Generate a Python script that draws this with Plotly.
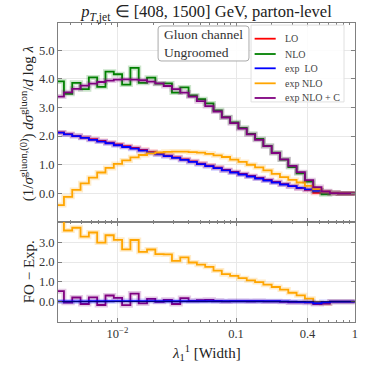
import numpy as np
import plotly.graph_objects as go
from plotly.subplots import make_subplots

# bins in log10(lambda), 36 equal-width bins ending at lambda = 1
log_edges = np.linspace(-2.52, 0.0, 37)
lam_edges = 10 ** log_edges

# top panel values, one per bin
lo = [2.13, 2.07, 2.01, 1.95, 1.89, 1.83, 1.77, 1.71, 1.65, 1.59, 1.52, 1.45,
      1.38, 1.32, 1.26, 1.19, 1.12, 1.04, 0.97, 0.90, 0.82, 0.75, 0.68, 0.61,
      0.54, 0.47, 0.40, 0.32, 0.25, 0.18, 0.12, 0.02, 0.03, 0.01, 0.0, 0.0]
nlo = [3.91, 3.48, 3.86, 3.64, 4.05, 3.72, 4.25, 4.16, 3.80, 4.38, 3.86, 4.04,
       3.83, 3.84, 3.52, 3.70, 3.42, 3.29, 3.14, 2.90, 2.66, 2.48, 2.29, 2.08,
       1.90, 1.66, 1.42, 1.18, 0.92, 0.70, 0.41, 0.10, -0.03, 0.01, 0.0, 0.0]
exp_lo = [2.12, 2.06, 2.00, 1.94, 1.87, 1.81, 1.75, 1.68, 1.62, 1.56, 1.49, 1.42,
          1.36, 1.30, 1.24, 1.17, 1.10, 1.02, 0.95, 0.88, 0.80, 0.73, 0.66, 0.59,
          0.52, 0.45, 0.38, 0.31, 0.25, 0.19, 0.14, 0.09, 0.05, 0.01, 0.0, 0.0]
exp_nlo = [-0.41, -0.12, 0.12, 0.35, 0.55, 0.73, 0.89, 1.03, 1.15, 1.26, 1.34, 1.40,
           1.43, 1.45, 1.46, 1.46, 1.44, 1.42, 1.38, 1.33, 1.27, 1.18, 1.10, 1.00,
           0.91, 0.80, 0.68, 0.57, 0.47, 0.38, 0.26, 0.15, 0.06, 0.01, 0.0, 0.0]
exp_nlo_c = [3.38, 3.53, 3.65, 3.76, 3.83, 3.89, 3.94, 3.97, 3.98, 3.97, 3.95, 3.90,
             3.84, 3.75, 3.64, 3.52, 3.38, 3.22, 3.05, 2.86, 2.65, 2.45, 2.26, 2.06,
             1.87, 1.65, 1.41, 1.19, 0.96, 0.74, 0.46, 0.22, 0.07, 0.01, 0.0, 0.0]

# lower panel: fixed order minus expansion
diff_nlo = np.array(nlo) - np.array(exp_nlo)
diff_nlo_c = np.array(nlo) - np.array(exp_nlo_c)
diff_lo = np.array(lo) - np.array(exp_lo)

x_tickvals = [0.01, 0.1, 0.4, 1]
x_ticktext = ['10<sup>\u22122</sup>', '0.1', '0.4', '1']

SERIF = 'Liberation Serif'
TXT = '#333333'
DARK = '#222222'
AXIS = '#808080'
GRID = '#e8e8e8'


def step(vals):
    vals = list(vals)
    return vals + [vals[-1]]


fig = make_subplots(rows=2, cols=1, shared_xaxes=True, vertical_spacing=0)

top_series = [
    ('LO', lo, '#ff0000'),
    ('NLO', nlo, '#008000'),
    ('exp  LO', exp_lo, '#0000ff'),
    ('exp NLO', exp_nlo, '#ffa500'),
    ('exp NLO + C', exp_nlo_c, '#800080'),
]

for name, vals, col in top_series:
    # faint band behind each histogram
    fig.add_trace(go.Scatter(x=lam_edges, y=step(vals), mode='lines', line_shape='hv',
                             line=dict(color=col, width=5), opacity=0.2,
                             showlegend=False, hoverinfo='skip'), row=1, col=1)
    fig.add_trace(go.Scatter(x=lam_edges, y=step(vals), mode='lines', line_shape='hv',
                             name=name, line=dict(color=col, width=1.8),
                             showlegend=False), row=1, col=1)

bottom_series = [
    (diff_nlo, '#ffa500'),
    (diff_nlo_c, '#800080'),
    (diff_lo, '#0000ff'),
]
for vals, col in bottom_series:
    fig.add_trace(go.Scatter(x=lam_edges, y=step(vals), mode='lines', line_shape='hv',
                             line=dict(color=col, width=5), opacity=0.2,
                             showlegend=False, hoverinfo='skip'), row=2, col=1)
    fig.add_trace(go.Scatter(x=lam_edges, y=step(vals), mode='lines', line_shape='hv',
                             line=dict(color=col, width=1.8), showlegend=False), row=2, col=1)

fig.add_hline(y=0, line_color='rgba(0,0,0,0.6)', line_width=1, row=2, col=1)

fig.update_layout(
    width=366, height=366,
    margin=dict(l=58, r=8, t=23, b=44),
    paper_bgcolor='white', plot_bgcolor='white',
    font=dict(family=SERIF, color=TXT, size=12),
    title=dict(text='<i>p</i><sub><i>T</i>,jet</sub> \u2208 [408, 1500] GeV, parton-level',
               x=0.5, xref='paper', xanchor='center', y=0.968, yref='container',
               yanchor='middle', font=dict(size=16.5, color=DARK)),
    showlegend=False,
)

axis_common = dict(showline=True, linecolor=AXIS, linewidth=1, mirror='allticks',
                   ticks='inside', tickcolor=AXIS, ticklen=4, showgrid=True,
                   gridcolor=GRID, zeroline=False, tickfont=dict(size=12.5, color=TXT))

fig.update_xaxes(type='log', range=[-2.5, 0.002], tickvals=x_tickvals, ticktext=x_ticktext,
                 minor=dict(ticks='inside', ticklen=2, tickcolor=AXIS, dtick='D1', showgrid=False),
                 **axis_common)
fig.update_xaxes(showticklabels=False, row=1, col=1)

fig.update_yaxes(range=[-1.0, 5.95], tickvals=[0, 1, 2, 3, 4, 5], tickformat='.1f',
                 domain=[0.3344, 1.0], row=1, col=1, **axis_common)
fig.update_yaxes(range=[-1.03, 4.03], tickvals=[0, 1, 2, 3], tickformat='.1f',
                 domain=[0.0, 0.3344], row=2, col=1, **axis_common)

# axis titles
fig.add_annotation(xref='paper', yref='paper', x=0.5, y=-0.104, xanchor='center', yanchor='middle',
                   text='<i>\u03bb</i><sub>1</sub><sup>1</sup> [Width]', showarrow=False,
                   font=dict(size=15, color=DARK))
fig.add_annotation(xref='paper', yref='paper', x=-0.103, y=0.666, xanchor='center', yanchor='middle',
                   textangle=-90, showarrow=False,
                   text='(1/<i>\u03c3</i><sup>gluon,(0)</sup>) <i>d\u03c3</i><sup>gluon</sup>/<i>d</i> log <i>\u03bb</i>',
                   font=dict(size=15, color=DARK))
fig.add_annotation(xref='paper', yref='paper', x=-0.097, y=0.167, xanchor='center', yanchor='middle',
                   textangle=-90, showarrow=False, text='FO \u2212 Exp.',
                   font=dict(size=15, color=DARK))

# text box with rounded corners
fig.add_shape(type='path', xref='paper', yref='paper',
              path='M 0.347,0.99 L 0.633,0.99 Q 0.643,0.99 0.643,0.98 L 0.643,0.883 '
                   'Q 0.643,0.873 0.633,0.873 L 0.347,0.873 Q 0.337,0.873 0.337,0.883 '
                   'L 0.337,0.98 Q 0.337,0.99 0.347,0.99 Z',
              line=dict(color='#aaaaaa', width=1), fillcolor='rgba(255,255,255,0.9)')
fig.add_annotation(xref='paper', yref='paper', x=0.35, y=0.932, xanchor='left', yanchor='middle',
                   text='Gluon channel<br>Ungroomed', showarrow=False, align='left',
                   font=dict(size=13.5, color=TXT, family=SERIF))

# legend box, drawn by hand to match the compact spacing
fig.add_shape(type='rect', xref='paper', yref='paper', x0=0.65, x1=0.963, y0=0.736, y1=0.993,
              line=dict(color='#e0e0e0', width=1), fillcolor='rgba(255,255,255,0.85)')
legend_y = [0.9475, 0.8963, 0.8485, 0.7983, 0.7492]
for (name, vals, col), ly in zip(top_series, legend_y):
    fig.add_shape(type='line', xref='paper', yref='paper', x0=0.662, x1=0.733, y0=ly, y1=ly,
                  line=dict(color=col, width=1.8))
    fig.add_annotation(xref='paper', yref='paper', x=0.758, y=ly, xanchor='left', yanchor='middle',
                       text=name.replace('  ', '\u2002'), showarrow=False,
                       font=dict(size=10, color='#444444'))

# the page body has a default 8px margin; drop it so the figure fills the window
fig.write_html('out.html', config=dict(displayModeBar=False),
               post_script="document.body.style.margin='0px';")
